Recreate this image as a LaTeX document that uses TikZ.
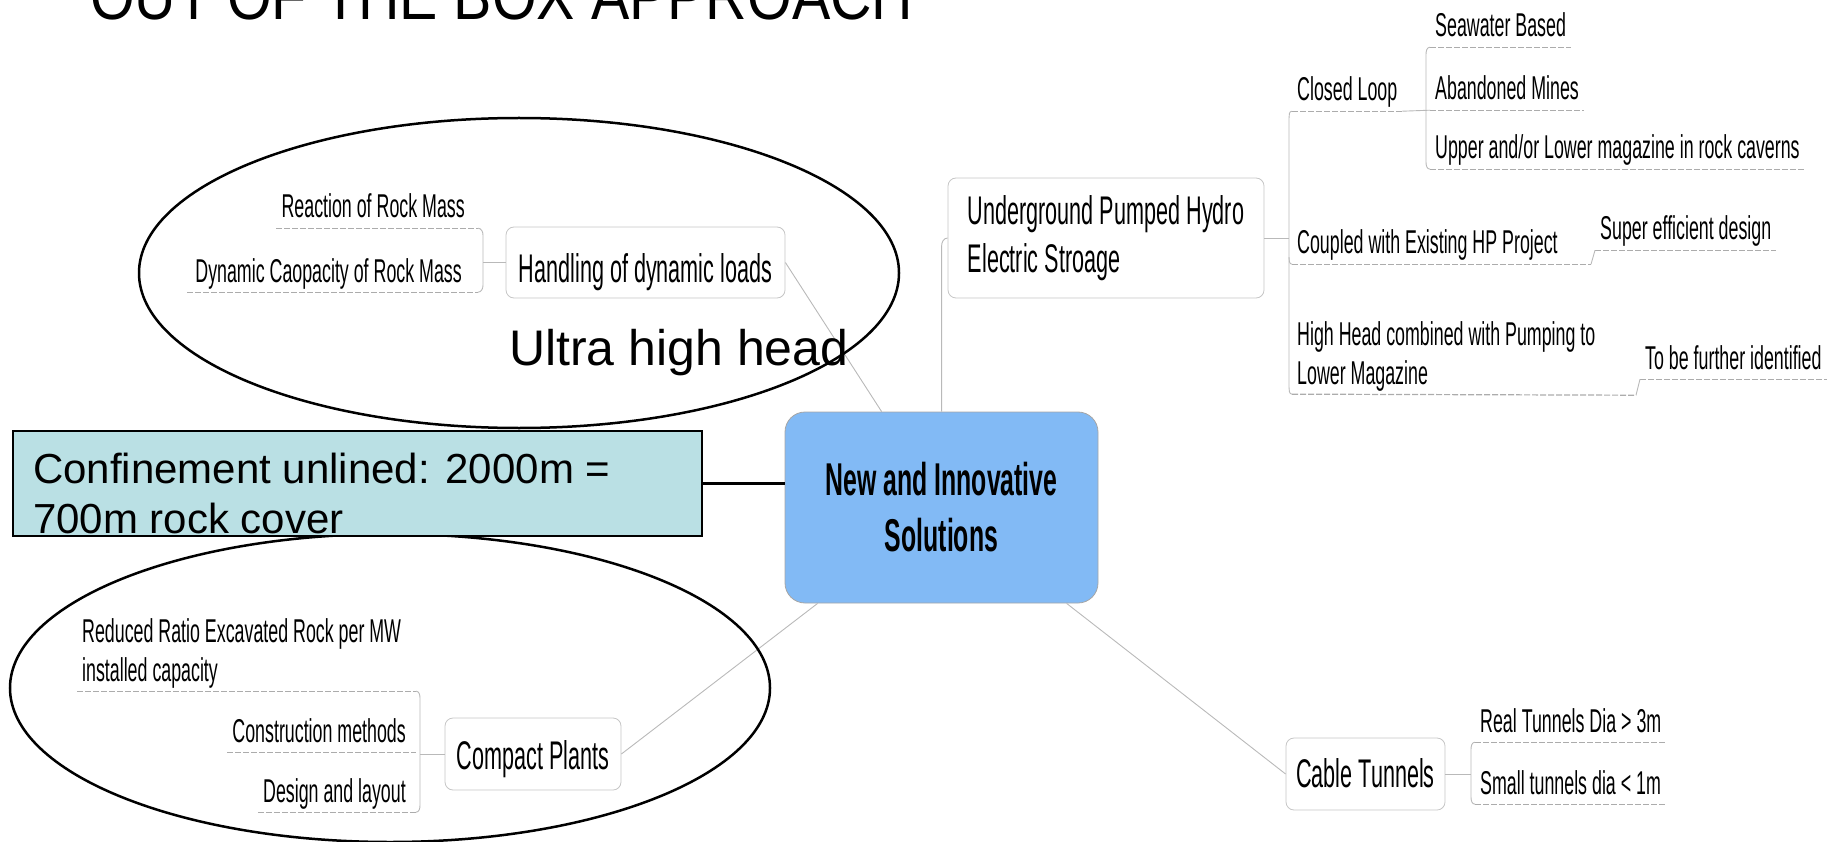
\documentclass[tikz,border=0pt]{standalone}
\usepackage{fontspec}
\setmainfont{Liberation Sans}
\newfontfamily\mmfont[FakeStretch=0.54]{Liberation Sans}
\newfontfamily\ttlfont[FakeStretch=0.87]{Liberation Sans}
\usetikzlibrary{calc}
\definecolor{cblue}{RGB}{130,186,245}
\definecolor{tealbg}{RGB}{186,224,228}
\begin{document}
\begin{tikzpicture}[x=1pt,y=-1pt,
  mbox/.style={draw=gray!45, line width=0.8pt, rounded corners=8pt, fill=white,
    font=\mmfont\fontsize{40}{48}\selectfont, inner sep=0pt, align=left},
  central/.style={draw=gray!70, line width=0.8pt, rounded corners=20pt, fill=cblue,
    font=\mmfont\bfseries\fontsize{46}{56}\selectfont, inner sep=0pt, align=center,
    minimum width=313pt, minimum height=191pt},
  sub/.style={font=\mmfont\fontsize{33}{39}\selectfont, inner xsep=5pt, inner ysep=0pt,
    text height=24pt, text depth=10pt, anchor=base west},
  subtwo/.style={font=\mmfont\fontsize{33}{39}\selectfont, inner xsep=5pt, inner ysep=0pt,
    align=left, anchor=north west},
  uline/.style={draw=gray!65, line width=1.2pt, dash pattern=on 6pt off 2pt},
  link/.style={draw=gray!55, line width=0.9pt},
  ov/.style={draw=black, line width=2.5pt},
  tealbox/.style={draw=black, line width=2pt, fill=tealbg, inner sep=0pt,
    minimum width=689pt, minimum height=105pt, anchor=north west},
  bigtext/.style={inner sep=0pt, align=left}
]
\useasboundingbox (0,0) rectangle (1843,842);

% title
\node[anchor=base west, inner sep=0pt, font=\ttlfont\fontsize{66}{66}\selectfont] (title) at (90,20) {OUT OF THE BOX APPROACH};

% central node
\node[central] (c) at (941.5,507.5) {New and Innovative\\Solutions};

% ---------- left top cluster
\node[mbox, minimum width=279pt, minimum height=71pt, text height=39pt, text depth=0pt] (hand) at (645.5,262.5) {Handling of dynamic loads};
\node[sub, anchor=base east] (react) at (470,218) {Reaction of Rock Mass};
\node[sub, anchor=base east] (dyn) at (467,282) {Dynamic Caopacity of Rock Mass};
\coordinate (bl) at (483,262.5);
\draw[uline] (react.south west) -- ($(react.south west -| bl)+(-5,0)$);
\draw[uline] ($(dyn.south west)+(-3,0)$) -- ($(dyn.south west -| bl)+(-5,0)$);
\draw[link] ($(react.south west -| bl)+(-5,0)$) to[out=0,in=90] ($(react.south west -| bl)+(0,7)$)
  -- ($(dyn.south west -| bl)+(0,-7)$) to[out=-90,in=0] ($(dyn.south west -| bl)+(-5,0)$);
\draw[link] (bl) -- (hand.west);
\draw[link] (hand.east) -- ($(c.north west)+(97,0)$);

% ---------- bottom left cluster
\node[mbox, minimum width=176pt, minimum height=72pt, text height=30pt, text depth=0pt] (compact) at (533,754) {Compact Plants};
\node[subtwo] (reduced) at (77,618) {Reduced Ratio Excavated Rock per MW\\installed capacity};
\node[sub, anchor=base east] (constr) at (411,742) {Construction methods};
\node[sub, anchor=base east] (design) at (411,802) {Design and layout};
\coordinate (bk) at (420,754);
\draw[uline] ($(reduced.south west)+(0,3)$) -- ($(reduced.south west -| bk)+(-4,3)$);
\draw[uline] (constr.south west) -- ($(constr.south west -| bk)+(-4,0)$);
\draw[uline] (design.south west) -- ($(design.south west -| bk)+(-4,0)$);
\draw[link] ($(reduced.south west -| bk)+(-4,3)$) to[out=0,in=90] ($(reduced.south west -| bk)+(0,10)$)
  -- ($(design.south west -| bk)+(0,-7)$) to[out=-90,in=0] ($(design.south west -| bk)+(-4,0)$);
\draw[link] (bk) -- (compact.west);
\draw[link] (compact.east) -- ($(c.south west)+(33,0)$);

% ---------- right cluster: underground pumped hydro
\node[mbox, minimum width=316pt, minimum height=120pt] (uphes) at (1106,238) {Underground Pumped Hydro\\Electric Stroage};
\draw[link] ($(c.north west)+(157,0)$) -- ($(uphes.west)+(-6,8)$) to[out=90,in=180] (uphes.west);

\node[sub] (closed) at (1292,101) {Closed Loop};
\node[sub] (seaw) at (1430,37) {Seawater Based};
\node[sub] (aband) at (1430,100) {Abandoned Mines};
\node[sub] (upper) at (1430,159) {Upper and/or Lower magazine in rock caverns};
\node[sub] (coupled) at (1292,254) {Coupled with Existing HP Project};
\node[sub] (super) at (1595,240) {Super efficient design};
\node[subtwo] (high) at (1292,321) {High Head combined with Pumping to\\Lower Magazine};
\node[sub] (tobe) at (1640,369) {To be further identified};

\foreach \n in {closed,seaw,aband,upper,super,tobe}
  \draw[uline] (\n.south west) -- (\n.south east);
\draw[uline] (coupled.south west) -- ($(super.south west)+(-4,14)$);
\draw[uline] ($(high.south west)+(0,3)$) -- ($(tobe.south west)+(-4,16)$);
\draw[link] ($(super.south west)+(-4,14)$) -- (super.south west);
\draw[link] ($(tobe.south west)+(-4,16)$) -- (tobe.south west);

\coordinate (tr) at (1289,238);
\draw[link] (uphes.east) -- (tr);
\draw[link] (closed.south west) to[out=180,in=90] ($(closed.south west)+(-3,7)$)
  -- ($(high.south west)+(-3,-4)$) to[out=-90,in=180] ($(high.south west)+(0,3)$);
\draw[link] ($(coupled.south west)+(-3,-7)$) to[out=-90,in=180] (coupled.south west);
\draw[link] (closed.south east) -- (aband.south west);
\draw[link] (seaw.south west) to[out=180,in=90] ($(seaw.south west)+(-4,7)$)
  -- ($(upper.south west)+(-4,-7)$) to[out=-90,in=180] (upper.south west);

% ---------- cable tunnels
\node[mbox, minimum width=159pt, minimum height=72pt, text height=26pt, text depth=0pt] (cable) at (1365.5,774) {Cable Tunnels};
\node[sub] (real) at (1475,732) {Real Tunnels Dia > 3m};
\node[sub] (small) at (1475,794) {Small tunnels dia < 1m};
\draw[uline] (real.south west) -- (real.south east);
\draw[uline] (small.south west) -- (small.south east);
\draw[link] (real.south west) to[out=180,in=90] ($(real.south west)+(-4,7)$)
  -- ($(small.south west)+(-4,-7)$) to[out=-90,in=180] (small.south west);
\draw[link] (cable.east) -- ($(cable.east -| real.south west)+(-4,0)$);
\draw[link] ($(c.south west)+(282,0)$) -- (cable.west);

% ---------- overlays
\draw[ov] (519,273) ellipse [x radius=380pt, y radius=155pt];
\draw[ov] (390,688) ellipse [x radius=380pt, y radius=154pt];
\node[bigtext, anchor=base west, font=\fontsize{50}{50}\selectfont] (ultra) at (509,365) {Ultra high head};

\node[tealbox] (conf) at (12,430) {};
\node[bigtext, anchor=north west, font=\fontsize{42}{50}\selectfont] (conft) at (33,453) {Confinement unlined: 2000m =\\700m rock cover};
\draw[black, line width=2.5pt] (conf.east) -- (conf.east -| c.west);
\end{tikzpicture}
\end{document}
